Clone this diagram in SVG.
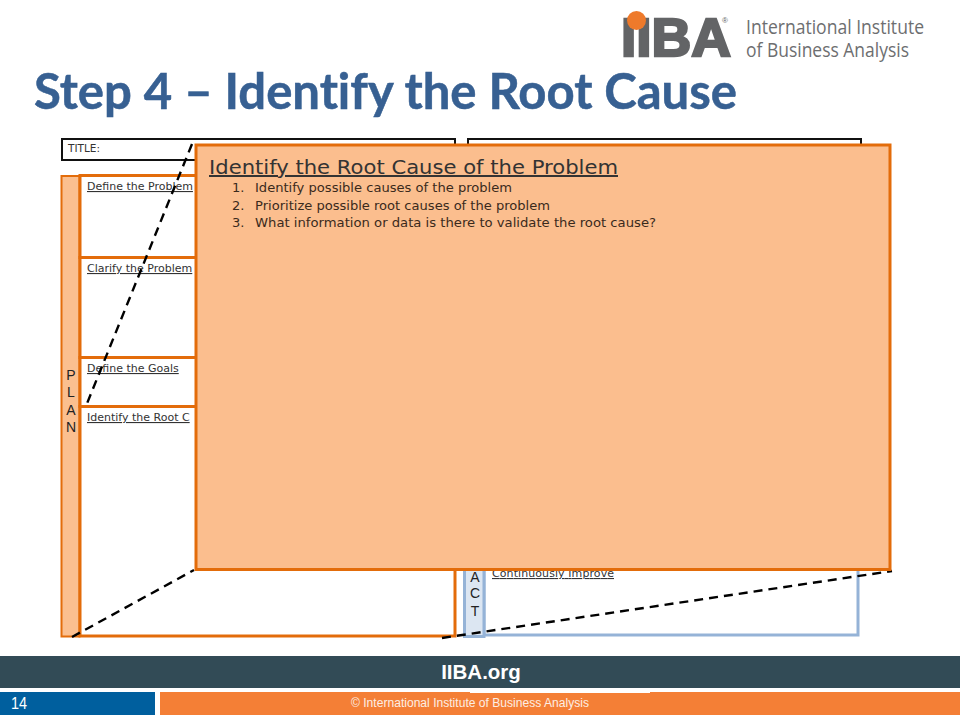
<svg xmlns="http://www.w3.org/2000/svg" width="960" height="720" viewBox="0 0 960 720">
<style>
.v{font-family:"DejaVu Sans","Liberation Sans",sans-serif;fill:#333}
.u{font-size:11px;text-decoration:underline}
.a{font-family:"Liberation Sans",Arial,sans-serif}
.col{font-family:"Liberation Sans",Arial,sans-serif;font-size:14px;fill:#222;text-anchor:middle}
.or{fill:#fff;stroke:#E36C0A;stroke-width:3}
.dash{fill:none;stroke:#000;stroke-width:2.4;stroke-dasharray:9 6}
.li{font-size:13px;fill:#3a2a1c}
</style>
<rect width="960" height="720" fill="#fff"/>
<g id="logo">
<text x="621" y="56" class="a" font-size="53" font-weight="700" fill="#636466" stroke="#636466" stroke-width="2.4" textLength="110" lengthAdjust="spacingAndGlyphs">IIBA</text>
<circle cx="636.5" cy="20.500" r="9.500" fill="#EE7A2B"/>
<text x="722" y="23" class="a" font-size="8" fill="#636466">®</text>
<text x="746" y="34" font-family="'Open Sans',sans-serif" font-size="20" fill="#6d6e70" textLength="178" lengthAdjust="spacingAndGlyphs">International Institute</text>
<text x="746" y="57" font-family="'Open Sans',sans-serif" font-size="20" fill="#6d6e70" textLength="163" lengthAdjust="spacingAndGlyphs">of Business Analysis</text>
</g>
<text id="heading" x="34" y="109" font-family="Lato,'Open Sans',sans-serif" font-weight="700" font-size="49" fill="#376092" style="font-variant-ligatures:none" stroke="#376092" stroke-width="0.5" textLength="703" lengthAdjust="spacingAndGlyphs">Step 4 – Identify the Root Cause</text>
<g id="title-left"><rect x="62" y="139" width="393" height="21" fill="#fff" stroke="#111" stroke-width="2"/><text x="68" y="152" class="v" font-size="10.500">TITLE:</text></g>
<g id="title-right"><rect x="468" y="139" width="393" height="21" fill="#fff" stroke="#111" stroke-width="2"/></g>
<g id="plan-col"><rect x="61.500" y="176" width="18" height="460.500" fill="#FBBF8F" stroke="#E36C0A" stroke-width="2"/>
<text class="col" x="71" y="380">P</text><text class="col" x="71" y="397">L</text><text class="col" x="71" y="415">A</text><text class="col" x="71" y="432">N</text></g>
<g id="define-problem"><rect class="or" x="80" y="175.500" width="375" height="82"/><text class="v u" x="87" y="190">Define the Problem</text></g>
<g id="clarify-problem"><rect class="or" x="80" y="257.500" width="375" height="100"/><text class="v u" x="87" y="272">Clarify the Problem</text></g>
<g id="define-goals"><rect class="or" x="80" y="357.500" width="375" height="49"/><text class="v u" x="87" y="372">Define the Goals</text></g>
<g id="root-cause"><rect class="or" x="80" y="406.500" width="375" height="229.500"/><text class="v u" x="87" y="421">Identify the Root C</text></g>
<g id="act-box"><rect x="484" y="540" width="374" height="95" fill="#fff" stroke="#95B3D7" stroke-width="3"/>
<rect x="464.500" y="540" width="19.500" height="96.500" fill="#DCE6F2" stroke="#95B3D7" stroke-width="3"/>
<text class="col" x="475" y="582">A</text><text class="col" x="475" y="598">C</text><text class="col" x="475" y="616">T</text>
<text class="v u" x="492" y="577" textLength="122" fill="#222">Continuously Improve</text></g>
<g id="connectors">
<path class="dash" d="M192 144L86 406"/>
<path class="dash" d="M72 637L194 570"/>
<path class="dash" d="M442 638L892 571"/>
</g>
<g id="popup">
<rect x="196" y="145" width="694" height="424.500" fill="#FBBE8E" stroke="#E36C0A" stroke-width="3"/>
<text x="209" y="174" class="v" font-size="20" fill="#1f1711" style="text-decoration:underline" textLength="409" lengthAdjust="spacingAndGlyphs">Identify the Root Cause of the Problem</text>
<text class="v li" x="232" y="192">1.</text><text class="v li" x="255" y="192" textLength="257" lengthAdjust="spacingAndGlyphs">Identify possible causes of the problem</text>
<text class="v li" x="232" y="210">2.</text><text class="v li" x="255" y="210" textLength="295" lengthAdjust="spacingAndGlyphs">Prioritize possible root causes of the problem</text>
<text class="v li" x="232" y="227">3.</text><text class="v li" x="255" y="227" textLength="401" lengthAdjust="spacingAndGlyphs">What information or data is there to validate the root cause?</text>
</g>
<g id="footer">
<rect x="0" y="656" width="960" height="32" fill="#324B56"/>
<text x="481" y="679" class="a" font-size="20.500" font-weight="700" fill="#fff" text-anchor="middle">IIBA.org</text>
<rect x="0" y="692" width="155" height="23" fill="#005F9E"/>
<text x="11" y="709" class="a" font-size="16" fill="#fff" textLength="16" lengthAdjust="spacingAndGlyphs">14</text>
<rect x="160" y="692" width="800" height="23" fill="#F47F36"/>
<rect x="470" y="692" width="180" height="1" fill="#fff"/>
<text x="470" y="707" class="a" font-size="12" fill="#fdeee4" text-anchor="middle" textLength="238" lengthAdjust="spacingAndGlyphs">© International Institute of Business Analysis</text>
</g>
</svg>
